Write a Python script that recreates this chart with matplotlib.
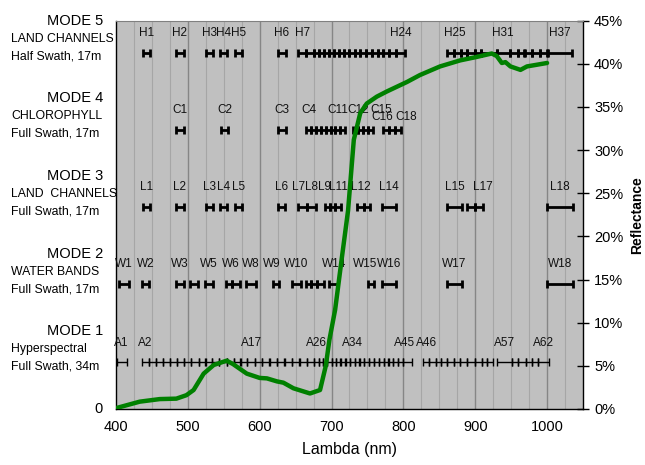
import matplotlib
matplotlib.use("Agg")
import matplotlib.pyplot as plt
import matplotlib.transforms as mtransforms
import numpy as np

plt.rcParams['font.family'] = ['Liberation Sans', 'DejaVu Sans']

# band centres / widths in nm for the five acquisition modes
m1_center = [409,
             441, 451, 461, 470, 480, 490, 500, 510, 520, 529, 539, 549, 559, 569, 578, 588,
             598, 608, 619, 629, 640, 650, 661, 671, 679,
             685, 691, 697, 703, 709, 716, 722, 729,
             736, 742, 749, 756, 762, 769, 776, 782, 789, 796, 806,
             831.5, 840.5, 849, 857, 865.5, 874.5, 883.5, 894, 904.5, 912.5, 920.5,
             940.5, 955.5, 965, 974.5, 983.5, 995]
m1_width = [14,
            10, 10, 10, 10, 10, 10, 10, 10, 10, 10, 10, 10, 10, 10, 10, 10,
            10, 10, 10, 10, 10, 10, 10, 9, 7,
            6, 6, 6, 6, 6, 7, 7, 7,
            7, 7, 7, 7, 7, 7, 7, 7, 7, 7, 12,
            9, 9, 8, 8, 9, 9, 9, 12, 9, 7, 9,
            21, 9, 10, 9, 9, 14]

m2_center = [411, 441, 489, 508, 529, 557, 567, 588, 623, 651, 668, 676, 685, 703, 755, 780, 871, 1018]
m2_width = [15, 10, 11, 11, 11, 9, 10, 13, 9, 13, 7, 8, 10, 12, 9, 19, 20, 35]

m3_center = [442, 489, 530, 550, 570, 630, 660, 672, 694.5, 701.5, 709, 740.5, 749, 780, 871, 894.5, 905.5, 1018]
m3_width = [10, 10, 10, 10, 10, 10, 12, 12, 7, 7, 8, 9, 8, 19, 20, 11, 11, 35]

m4_center = [489, 551, 631,
             668.5, 675.5, 682.5, 689, 695.5, 702, 708.5, 715.5,
             733.5, 740.5, 747.5, 754.5,
             775.5, 784, 792.5]
m4_width = [10, 10, 10,
            7, 7, 7, 6, 7, 6, 7, 7,
            7, 7, 7, 7,
            9, 8, 9]

m5_center = [442, 489, 530, 550, 570, 631,
             659, 670, 679.5, 686.5, 693.5, 700.5, 707.5, 714.5, 721.5, 728.5,
             736, 744, 752, 760, 768, 776, 785, 796,
             866, 875.5, 884.5, 894, 903.5, 919, 939, 954, 964, 974, 985, 995, 1018]
m5_width = [10, 10, 10, 10, 10, 10,
            10, 12, 7, 7, 7, 7, 7, 7, 7, 7,
            8, 8, 8, 8, 8, 8, 10, 12,
            10, 9, 9, 10, 9, 22, 18, 12, 9, 10, 11, 10, 34]

m1_tags = ["A1", "A2", "A17", "A26", "A34", "A45", "A46", "A57", "A62"]
m2_tags = ["W1", "W2", "W3", "W5", "W6", "W8", "W9", "W10", "W14", "W15", "W16", "W17", "W18"]
m3_tags = ["L1", "L2", "L3", "L4", "L5", "L6", "L7", "L8", "L9", "L11", "L12", "L14", "L15", "L17", "L18"]
m4_tags = ["C1", "C2", "C3", "C4", "C11", "C12", "C15", "C16", "C18"]
m5_tags = ["H1", "H2", "H3", "H4", "H5", "H6", "H7", "H24", "H25", "H31", "H37"]

mode_titles = ["MODE 1", "MODE 2", "MODE 3", "MODE 4", "MODE 5"]
mode_kind = ["Hyperspectral", "WATER BANDS", "LAND  CHANNELS", "CHLOROPHYLL", "LAND CHANNELS"]
mode_swath = ["Full Swath, 34m", "Full Swath, 17m", "Full Swath, 17m", "Full Swath, 17m", "Half Swath, 17m"]

# vegetation reflectance spectrum (%)
spec_nm = [400, 433, 461, 484, 498, 508, 522, 536, 554, 563, 582, 600, 610, 624, 633, 647,
           670, 684, 692, 697, 705, 714, 723, 731, 740, 749, 763, 777, 805, 823, 851, 879,
           902, 923, 930, 937, 942, 949, 963, 972, 986, 1000]
spec_refl = [0.1, 0.85, 1.15, 1.2, 1.6, 2.2, 4.1, 5.1, 5.6, 5.2, 4.1, 3.6, 3.55, 3.2, 3.05, 2.4,
             1.8, 2.2, 5.0, 8.0, 11.5, 17.3, 23.0, 31.2, 34.3, 35.4, 36.2, 36.8, 37.9, 38.7, 39.7, 40.4,
             40.8, 41.2, 40.9, 40.1, 40.2, 39.7, 39.3, 39.7, 39.9, 40.1]

# vertical placement of each mode row (in reflectance units)
row_y = [5.4, 14.45, 23.4, 32.3, 41.3]
label_y = [9, 18, 27, 36, 45]

# nudges for crowded band labels: (dx nm, dy %)
nudge = {"A1": (-2, 0), "A45": (-4, 0), "A46": (1, 0),
         "W6": (3, 0), "W9": (-6, 0), "W15": (-8, 0),
         "L7": (-6, 0), "L9": (-4, 0), "L17": (5, 0),
         "C11": (-7, 0), "C12": (4, 0), "C15": (15, 0), "C16": (-5, -0.8), "C18": (12, -0.8),
         "H25": (6, 0)}

fig = plt.figure(figsize=(6.45, 4.65), dpi=100)
ax = fig.add_axes([116 / 645, 1 - 409 / 465, 467 / 645, 388.3 / 465])
ax.set_facecolor('#c0c0c0')
ax.set_xlim(400, 1050)
ax.set_ylim(0, 45)

for g in range(425, 1050, 25):
    if g % 100 == 0:
        ax.axvline(g, color='#868686', lw=1.0, zorder=1)
    else:
        ax.axvline(g, color='#a6a6a6', lw=0.8, zorder=1)

modes = [
    (m1_center, m1_width, m1_tags),
    (m2_center, m2_width, m2_tags),
    (m3_center, m3_width, m3_tags),
    (m4_center, m4_width, m4_tags),
    (m5_center, m5_width, m5_tags),
]

for i, (cen, wid, tags) in enumerate(modes):
    cen = np.array(cen, dtype=float)
    half = np.array(wid, dtype=float) / 2
    thin = (i == 0)
    ax.errorbar(cen, np.full(len(cen), row_y[i]), xerr=half, fmt='none',
                ecolor='black', elinewidth=1.0 if thin else 2.0,
                capsize=3.0 if thin else 2.6, capthick=1.0 if thin else 2.0, zorder=3)
    for t in tags:
        k = int(t[1:]) - 1
        dx, dy = nudge.get(t, (0, 0))
        ax.text(cen[k] + dx, row_y[i] + 2.3 + dy, t, fontsize=8.5, ha='center', va='center',
                color='#111111', zorder=4)

ax.plot(spec_nm, spec_refl, color='#008000', lw=3.2, zorder=5, solid_capstyle='round')

# left-hand mode captions
trans = mtransforms.blended_transform_factory(fig.transFigure, ax.transData)
ax.text(103 / 645, 0, "0", transform=trans, ha='right', va='center', fontsize=10.5)
for i in range(5):
    ax.text(103 / 645, label_y[i], mode_titles[i], transform=trans, ha='right', va='center', fontsize=10.5)
    ax.text(11 / 645, label_y[i] - 2.1, mode_kind[i], transform=trans, ha='left', va='center', fontsize=8.8)
    ax.text(11 / 645, label_y[i] - 4.1, mode_swath[i], transform=trans, ha='left', va='center', fontsize=8.8)

ax.set_xticks([400, 500, 600, 700, 800, 900, 1000])
ax.tick_params(axis='x', length=0, labelsize=10.5, pad=8)
ax.yaxis.tick_right()
ax.yaxis.set_label_position('right')
ax.set_yticks(range(0, 50, 5))
ax.set_yticklabels([f"{v}%" for v in range(0, 50, 5)])
ax.tick_params(axis='y', direction='inout', length=8, width=1, labelsize=10.5, pad=4)
ax.set_xlabel("Lambda (nm)", fontsize=11.5, labelpad=6)
ax.set_ylabel("Reflectance", fontsize=10, fontweight='bold', labelpad=5)

for s in ['left', 'bottom', 'right']:
    ax.spines[s].set_color('black')
    ax.spines[s].set_linewidth(1.0)
ax.spines['top'].set_color('#808080')
ax.spines['top'].set_linewidth(0.8)

fig.savefig("out.png", dpi=100)
